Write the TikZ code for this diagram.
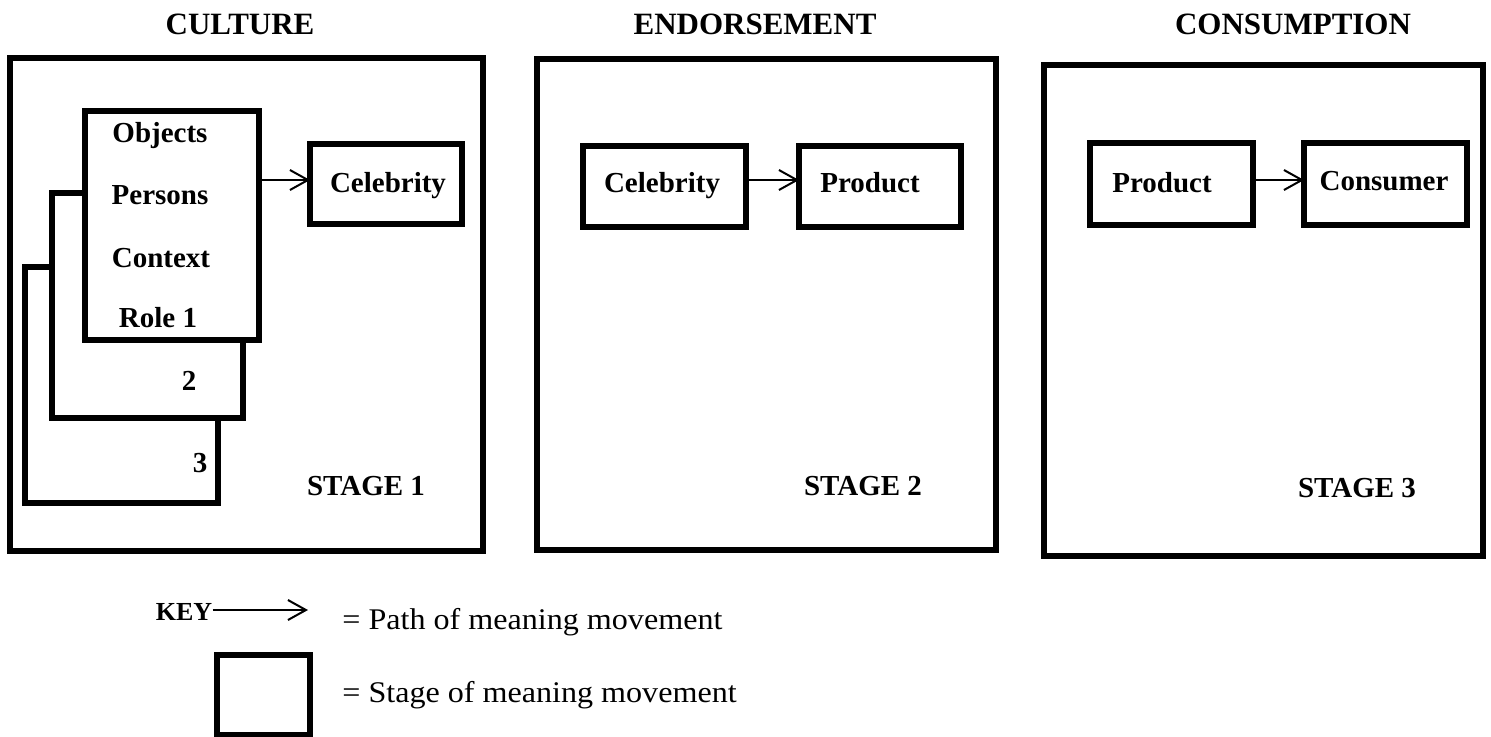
\documentclass[tikz,border=0pt]{standalone}
\usepackage{fontspec}
\setmainfont{Liberation Serif}
\newfontfamily\keyfont{Liberation Serif}[FakeStretch=1.07]
\usetikzlibrary{arrows.meta}
\begin{document}
\begin{tikzpicture}[x=0.5pt,y=-0.5pt,
  frame/.style={draw=black, line width=2.6pt, line join=miter},
  box/.style={draw=black, line width=2.6pt, rectangle, inner sep=0pt, outer sep=0pt},
  lbl/.style={font=\fontsize{14.5}{16}\selectfont\bfseries, inner sep=0pt, anchor=base},
  ttl/.style={font=\fontsize{15.5}{18}\selectfont\bfseries, inner sep=0pt, anchor=base},
  keytxt/.style={font=\keyfont\fontsize{15}{17}\selectfont, inner sep=0pt, anchor=base west},
  arr/.style={line width=1pt, -{Straight Barb[length=9pt,width=10pt,line width=1pt]}}]
\useasboundingbox (0,0) rectangle (1491,736);
% titles
\node[ttl] (t1) at (240,34) {CULTURE};
\node[ttl] (t2) at (755,34) {ENDORSEMENT};
\node[ttl] (t3) at (1293,34) {CONSUMPTION};
% stage frames
\node[box, minimum width=473*0.5pt, minimum height=493*0.5pt] (s1) at (246.5,304.5) {};
\node[box, minimum width=459*0.5pt, minimum height=491*0.5pt] (s2) at (766.5,304.5) {};
\node[box, minimum width=439*0.5pt, minimum height=491*0.5pt] (s3) at (1263.5,310.5) {};
% stacked role boxes (back ones partly hidden)
\draw[frame] (52,267) -- (25,267) -- (25,503) -- (218,503) -- (218,418);
\draw[frame] (85,193) -- (52,193) -- (52,418) -- (243,418) -- (243,340);
\node[box, minimum width=174*0.5pt, minimum height=229*0.5pt] (r1) at (172,225.5) {};
\node[lbl] (o) at (160,142) {Objects};
\node[lbl] (p) at (160,204) {Persons};
\node[lbl] (c) at (161,267) {Context};
\node[lbl] (r) at (158,327) {Role 1};
\node[lbl] (n2) at (189,390) {2};
\node[lbl] (n3) at (200,472) {3};
% stage 1
\node[box, minimum width=152*0.5pt, minimum height=80*0.5pt] (cel1) at (386,184) {};
\node[lbl] at (388,192) {Celebrity};
\draw[arr] (r1.east |- 0,180) -- (cel1.west |- 0,180);
\node[lbl] (st1) at (366,495) {STAGE 1};
% stage 2
\node[box, minimum width=163*0.5pt, minimum height=81*0.5pt] (cel2) at (664.5,186.5) {};
\node[lbl] at (662,192) {Celebrity};
\node[box, minimum width=162*0.5pt, minimum height=81*0.5pt] (prod2) at (880,186.5) {};
\node[lbl] at (870,192) {Product};
\draw[arr] (cel2.east |- 0,180) -- (prod2.west |- 0,180);
\node[lbl] (st2) at (863,495) {STAGE 2};
% stage 3
\node[box, minimum width=163*0.5pt, minimum height=82*0.5pt] (prod3) at (1171.5,184) {};
\node[lbl] at (1162,192) {Product};
\node[box, minimum width=163*0.5pt, minimum height=82*0.5pt] (cons3) at (1385.5,184) {};
\node[lbl] at (1384,190) {Consumer};
\draw[arr] (prod3.east |- 0,180) -- (cons3.west |- 0,180);
\node[lbl] (st3) at (1357,497) {STAGE 3};
% key
\node[font=\fontsize{13}{15}\selectfont\bfseries, inner sep=0pt, anchor=base] (key) at (184,620) {KEY};
\coordinate (kend) at (308,610);
\draw[arr] (key.east |- kend) -- (kend);
\node[keytxt] (k1) at (342,629) {= Path of meaning movement};
\node[box, minimum width=93*0.5pt, minimum height=80*0.5pt] (ksq) at (263.5,695) {};
\node[keytxt] (k2) at (342,702) {= Stage of meaning movement};
\end{tikzpicture}
\end{document}
